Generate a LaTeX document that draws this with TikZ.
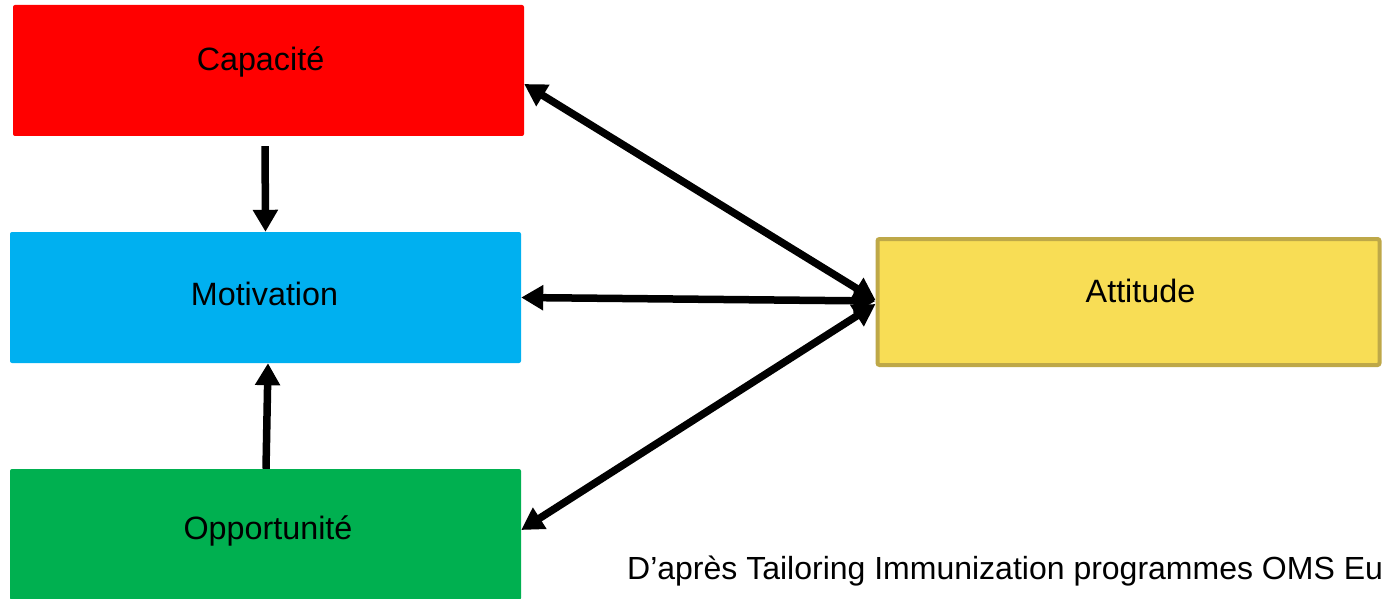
\documentclass[tikz,border=0pt]{standalone}
\usepackage{fontspec}
\setmainfont{Liberation Sans}
\usetikzlibrary{arrows.meta}
\definecolor{capred}{RGB}{255,0,0}
\definecolor{motblue}{RGB}{0,176,240}
\definecolor{oppgreen}{RGB}{0,176,80}
\definecolor{attfill}{RGB}{248,221,85}
\definecolor{attborder}{RGB}{190,168,72}
\tikzset{
  box/.style={rectangle, rounded corners=2pt, inner sep=0pt, minimum width=511pt, minimum height=131pt, draw=none},
  lbl/.style={anchor=base, inner sep=0pt, font=\fontsize{32.3}{38}\selectfont},
  conn/.style={line width=7.5pt, -{Triangle[length=22pt,width=24pt]}},
  dconn/.style={line width=7.5pt, {Triangle[length=22pt,width=24pt]}-{Triangle[length=22pt,width=24pt]}},
}
\begin{document}
\begin{tikzpicture}[x=1pt,y=-1pt]
\useasboundingbox (0,0) rectangle (1382,599);
\node[box, fill=capred] (cap) at (268.5,70.5) {};
\node[box, fill=motblue] (mot) at (265.5,297.5) {};
\node[box, fill=oppgreen] (opp) at (265.5,534.5) {};
\node[box, fill=attfill, draw=attborder, line width=4pt, minimum width=502pt, minimum height=126pt] (att) at (1128.5,302) {};
\node[lbl] (capT) at (260.5,71) {Capacité};
\node[lbl] (motT) at (264.5,305) {Motivation};
\node[lbl] (attT) at (1140.5,302) {Attitude};
\node[lbl] (oppT) at (268,539) {Opportunité};
\node[anchor=base west, inner sep=0pt, font=\fontsize{32}{38}\selectfont] (src) at (627,579) {D’après Tailoring Immunization programmes OMS Eu};
\draw[conn, shorten <=10pt] ([xshift=-3.5pt]cap.south) -- (mot.north);
\draw[conn] ([xshift=0.5pt]opp.north) -- ([xshift=2.5pt]mot.south);
\draw[dconn] ([yshift=-13.5pt]cap.east) -- ([yshift=2pt]att.west);
\draw[dconn] (mot.east) -- ([yshift=1pt]att.west);
\draw[dconn] ([yshift=4.5pt]opp.east) -- ([yshift=-2pt]att.west);
\end{tikzpicture}
\end{document}
